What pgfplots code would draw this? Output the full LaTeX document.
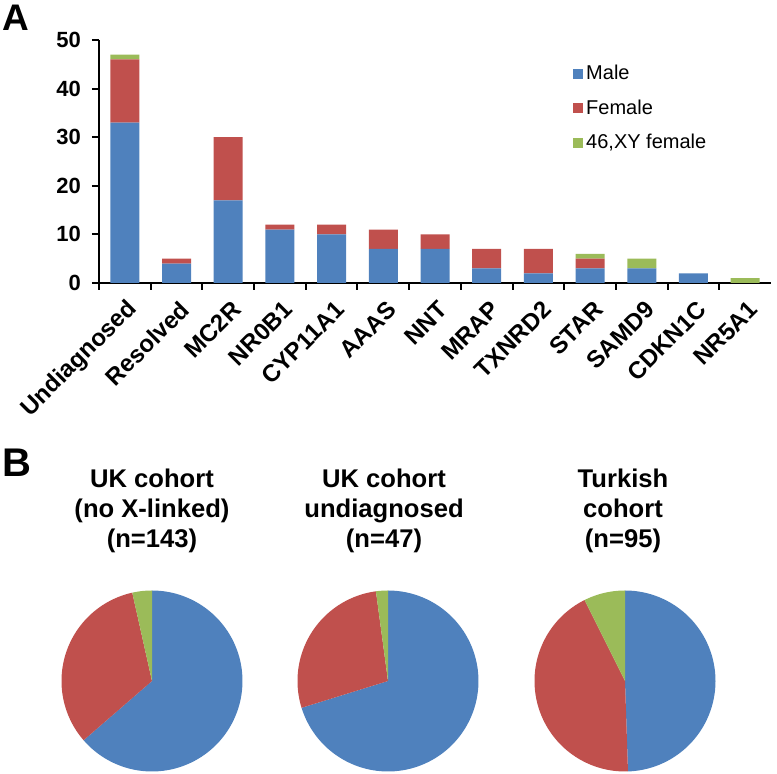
\documentclass[border=0pt]{standalone}
\usepackage{fontspec}
\setmainfont{Liberation Sans}
\usepackage{pgfplots}
\pgfplotsset{compat=1.18}
\usepackage{pgfplotstable}

\definecolor{cmale}{HTML}{4F81BD}
\definecolor{cfem}{HTML}{C0504D}
\definecolor{cxy}{HTML}{9BBB59}

% counts per gene / group
\pgfplotstableread{
x cat         male female xy
0 Undiagnosed 33   13     1
1 Resolved    4    1      0
2 MC2R        17   13     0
3 NR0B1       11   1      0
4 CYP11A1     10   2      0
5 AAAS        7    4      0
6 NNT         7    3      0
7 MRAP        3    4      0
8 TXNRD2      2    5      0
9 STAR        3    2      1
10 SAMD9      3    0      2
11 CDKN1C     2    0      0
12 NR5A1      0    0      1
}\genes

% pie: male, female, 46,XY female (clockwise from 12 o'clock)
\newcommand{\pieslices}[3]{%
  \pgfmathsetmacro\tot{#1+#2+#3}%
  \pgfmathsetmacro\aA{90-360*(#1/\tot)}%
  \pgfmathsetmacro\aB{\aA-360*(#2/\tot)}%
  \addplot[fill=cmale, draw=none, domain=\aA:90, samples=90] ({cos(x)},{sin(x)}) -- (0,0) -- cycle;
  \addplot[fill=cfem, draw=none, domain=\aB:\aA, samples=90] ({cos(x)},{sin(x)}) -- (0,0) -- cycle;
  \addplot[fill=cxy, draw=none, domain=-270:\aB, samples=30] ({cos(x)},{sin(x)}) -- (0,0) -- cycle;
}

\pgfplotsset{
  pie/.style={
    scale only axis, width=90.5pt, height=90.5pt,
    xmin=-1, xmax=1, ymin=-1, ymax=1,
    hide axis, clip=false, anchor=center,
  },
}

\begin{document}
\begin{tikzpicture}
\useasboundingbox (0pt,0pt) rectangle (388.5pt,-387pt);

\node[anchor=north west, inner sep=0pt, font=\fontsize{18.5}{20}\selectfont\bfseries] at (1pt,-2.5pt) {A};
\node[anchor=north west, inner sep=0pt, font=\fontsize{20}{22}\selectfont\bfseries] at (1pt,-224.5pt) {B};

\begin{axis}[
  at={(49.5pt,-141.5pt)}, anchor=south west,
  scale only axis, width=336pt, height=121.5pt,
  ybar stacked, bar width=14.5pt,
  xmin=-0.5, xmax=12.5, ymin=0, ymax=50,
  axis x line*=bottom, axis y line*=left,
  axis line style={line width=1pt},
  ytick={0,10,...,50},
  xtick={0,...,12},
  xticklabels from table={\genes}{cat},
  minor xtick={-0.5,0.5,...,11.5},
  tick align=outside,
  major tick length=3.5pt, minor tick length=3.5pt,
  major x tick style={draw=none},
  every tick/.style={black, line width=1pt},
  /pgf/number format/assume math mode=true,
  yticklabel style={font=\fontsize{11}{12}\selectfont\bfseries, xshift=-2pt},
  xticklabel style={font=\fontsize{12}{13}\selectfont\bfseries, rotate=45, anchor=east, yshift=-8.5pt, xshift=1pt},
  legend style={draw=none, at={(0.7045,0.915)}, anchor=north west,
    font=\fontsize{10}{11}\selectfont, row sep=4.6pt, inner sep=0pt,
    nodes={inner xsep=1.5pt}},
  legend cell align=left,
  legend image code/.code={\fill[#1, draw=none] (0pt,-2.5pt) rectangle (5.2pt,2.5pt);},
]
\addplot[fill=cmale, draw=none] table[x=x, y=male] {\genes};
\addplot[fill=cfem, draw=none] table[x=x, y=female] {\genes};
\addplot[fill=cxy, draw=none] table[x=x, y=xy] {\genes};
\legend{Male, Female, {46,XY female}}
\end{axis}

\tikzset{pietitle/.style={anchor=north, inner sep=0pt, align=center,
  font=\fontsize{12.8}{14.9}\selectfont\bfseries}}
\node[pietitle] at (76pt,-234.5pt) {UK cohort\\(no X-linked)\\(n=143)};
\node[pietitle] at (192pt,-234.5pt) {UK cohort\\undiagnosed\\(n=47)};
\node[pietitle] at (311.5pt,-234.5pt) {Turkish\\cohort\\(n=95)};

\begin{axis}[pie, at={(76pt,-340.5pt)}]
\pieslices{91}{47}{5}
\end{axis}
\begin{axis}[pie, at={(194pt,-340.5pt)}]
\pieslices{33}{13}{1}
\end{axis}
\begin{axis}[pie, at={(312.5pt,-340.5pt)}]
\pieslices{47}{41}{7}
\end{axis}
\end{tikzpicture}
\end{document}
